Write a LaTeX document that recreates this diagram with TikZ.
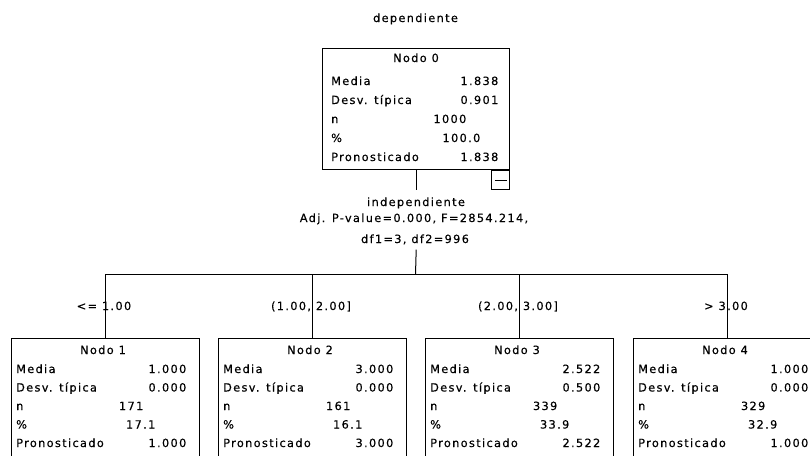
\documentclass[tikz,border=0pt]{standalone}
\usepackage{fontspec}
\setmainfont{DejaVu Sans}[LetterSpace=12, FakeBold=0.4]

% One statistics box: #1 name, #2 left x, #3 top y, #4 header,
% #5 media, #6 desv. tipica, #7 n, #8 percentage, #9 pronosticado
\newcommand\StatBox[9]{%
  \node[box, minimum width=\BoxW, minimum height=\BoxH, anchor=north west] (#1) at (#2,#3) {};
  \node[txt, anchor=base] (#1h) at ({#2+\HeadX},{#3+\HeadY}) {#4};
  \node[txt, anchor=base west] (#1la) at ({#2+\LabX},{#3+\RowA}) {Media};
  \node[txt, anchor=base east] (#1va) at ({#2+\ValX},{#3+\RowA}) {#5};
  \node[txt, anchor=base west] (#1lb) at ({#2+\LabX},{#3+\RowA+\RowD}) {Desv. típica};
  \node[txt, anchor=base east] (#1vb) at ({#2+\ValX},{#3+\RowA+\RowD}) {#6};
  \node[txt, anchor=base west] (#1lc) at ({#2+\LabX},{#3+\RowA+2*\RowD}) {n};
  \node[txt, anchor=base east] (#1vc) at ({#2+\NX},{#3+\RowA+2*\RowD}) {#7};
  \node[txt, anchor=base west] (#1ld) at ({#2+\LabX},{#3+\RowA+3*\RowD}) {\%};
  \node[txt, anchor=base east] (#1vd) at ({#2+\PX},{#3+\RowA+3*\RowD}) {#8};
  \node[txt, anchor=base west] (#1le) at ({#2+\LabX},{#3+\RowA+4*\RowD}) {Pronosticado};
  \node[txt, anchor=base east] (#1ve) at ({#2+\ValX},{#3+\RowA+4*\RowD}) {#9};
}

\begin{document}
\begin{tikzpicture}[x=1pt, y=-1pt,
  box/.style={draw=black, line width=1.4pt, fill=white, inner sep=0pt},
  txt/.style={inner sep=0pt, font=\fontsize{11.3}{14}\selectfont, text=black},
  link/.style={draw=black, line width=1pt}]
\useasboundingbox (0,0) rectangle (810,455);
\clip (0,0) rectangle (810,455);

% title
\node[txt, anchor=base] (title) at (415.5,22) {dependiente};

% root node
\def\BoxW{187pt}\def\BoxH{121pt}
\def\HeadX{94}\def\HeadY{14}
\def\RowA{37}\def\RowD{19}
\def\LabX{9}\def\ValX{176.5}\def\NX{144.5}\def\PX{158.5}
\StatBox{n0}{322}{48}{Nodo 0}{1.838}{0.901}{1000}{100.0}{1.838}

% collapse toggle under the root node
\node[draw=black, line width=1pt, fill=white, minimum width=18pt, minimum height=19pt,
      inner sep=0pt, anchor=north east] (n0m) at (n0.south east) {};
\draw[line width=1pt] ([xshift=3.5pt]n0m.west) -- ([xshift=-3.5pt]n0m.east);

% split description
\node[txt, anchor=base, inner ysep=7pt] (sp1) at (416,206) {independiente};
\node[txt, anchor=base] (sp2) at (414,222) {Adj. P-value=0.000, F=2854.214,};
\node[txt, anchor=base, inner ysep=5pt] (sp3) at (415,243) {df1=3, df2=996};

% child nodes
\def\BoxW{188pt}\def\BoxH{130pt}
\def\HeadX{92}\def\HeadY{16}
\def\RowA{35}\def\RowD{18.5}
\def\LabX{5}\def\ValX{175.5}\def\NX{132.5}\def\PX{144.5}
\StatBox{n1}{11}{338}{Nodo 1}{1.000}{0.000}{171}{17.1}{1.000}
\StatBox{n2}{218}{338}{Nodo 2}{3.000}{0.000}{161}{16.1}{3.000}
\StatBox{n3}{425}{338}{Nodo 3}{2.522}{0.500}{339}{33.9}{2.522}
\StatBox{n4}{633}{338}{Nodo 4}{1.000}{0.000}{329}{32.9}{1.000}

% connectors
\coordinate (bar) at (415.5,274.5);
\draw[link] (n0.south) -- (n0.south |- sp1.north);
\draw[link] (n0.south |- sp3.south) -- (bar);
\draw[link] (n1.north) -- (n1.north |- bar) -- (n4.north |- bar) -- (n4.north);
\draw[link] (n2.north) -- (n2.north |- bar);
\draw[link] (n3.north) -- (n3.north |- bar);

% branch labels
\node[txt, anchor=base] (b1) at (104,310) {<= 1.00};
\node[txt, anchor=base] (b2) at (311,310) {(1.00, 2.00]};
\node[txt, anchor=base] (b3) at (518,310) {(2.00, 3.00]};
\node[txt, anchor=base] (b4) at (726,310) {> 3.00};
\end{tikzpicture}
\end{document}
